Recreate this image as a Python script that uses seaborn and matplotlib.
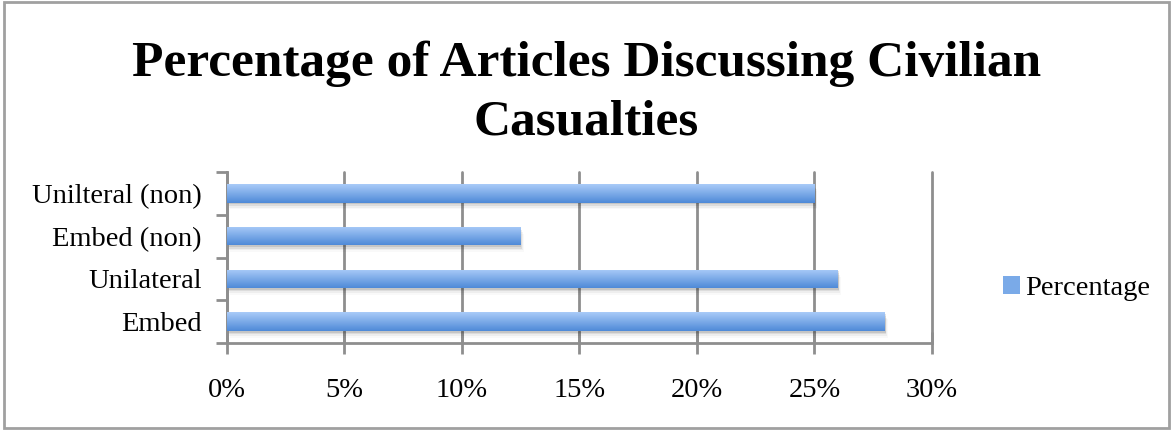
import matplotlib
matplotlib.use('Agg')
import matplotlib.pyplot as plt
import matplotlib.patches as mpatches
from matplotlib.colors import LinearSegmentedColormap
import numpy as np
import pandas as pd
import seaborn as sns

# data
categories = ["Embed", "Unilateral", "Embed (non)", "Unilteral (non)"]
percentages = [28.0, 26.0, 12.5, 25.0]
x_ticks = [0, 5, 10, 15, 20, 25, 30]

sns.set_theme(style="white")
plt.rcParams['font.family'] = ['Liberation Serif', 'DejaVu Serif']
plt.rcParams['text.color'] = 'black'
plt.rcParams['xtick.labelcolor'] = 'black'
plt.rcParams['ytick.labelcolor'] = 'black'

GRID = '#8e8e8e'
TOP_BLUE = '#a9cbf8'
BOT_BLUE = '#4f8ad8'
bar_cmap = LinearSegmentedColormap.from_list('bar', [TOP_BLUE, BOT_BLUE])

df = pd.DataFrame({"Category": categories, "Percentage": percentages})
# top-to-bottom order as drawn
order = categories[::-1]

fig = plt.figure(figsize=(11.73, 4.30), dpi=100)
ax = fig.add_axes([0.1935, 0.2023, 0.601, 0.3977])

sns.barplot(data=df, y="Category", x="Percentage", order=order, ax=ax,
            color=BOT_BLUE, width=0.43, orient='h', zorder=3)

# gradient fill + soft shadow for each bar
grad = np.linspace(0, 1, 64).reshape(-1, 1)
for p in list(ax.patches):
    x0, y0 = p.get_x(), p.get_y()
    w, h = p.get_width(), p.get_height()
    for k, a in enumerate([0.10, 0.07, 0.045, 0.025]):
        sh = mpatches.Rectangle((x0 + 0.03 * (k + 1), y0 + 0.04 * (k + 1)), w, h,
                                facecolor='black', edgecolor='none', alpha=a, zorder=2)
        ax.add_patch(sh)
    p.set_facecolor('none')
    p.set_edgecolor('none')
    im = ax.imshow(grad, cmap=bar_cmap, aspect='auto', origin='upper',
                   extent=[x0, x0 + w, y0 + h, y0], zorder=3, interpolation='bilinear')
    im.set_clip_path(p)

ax.set_xlim(0, 30)
ax.set_ylim(len(order) - 0.5, -0.5)
ax.set_xticks(x_ticks)
ax.set_xticklabels([f"{t}%" for t in x_ticks])

# category boundary ticks on y axis, labels at centers
ax.set_yticks(np.arange(-0.5, len(order), 1.0))
ax.set_yticklabels([])
ax.set_yticks(np.arange(len(order)), minor=True)
ax.set_yticklabels(order, minor=True)
ax.tick_params(axis='y', which='major', direction='out', length=8, width=2, color=GRID, left=True)
ax.tick_params(axis='y', which='minor', length=0, pad=18, labelsize=20.5)
ax.tick_params(axis='x', direction='inout', length=16, width=2, color=GRID, bottom=True,
               labelsize=20.5, pad=17)

ax.xaxis.grid(True, color=GRID, linewidth=2, zorder=1)
for gl in ax.get_xgridlines():
    gl.set_clip_on(False)
ax.yaxis.grid(False)
for side in ['top', 'right']:
    ax.spines[side].set_visible(False)
for side in ['left', 'bottom']:
    ax.spines[side].set_color(GRID)
    ax.spines[side].set_linewidth(2)
ax.set_xlabel("")
ax.set_ylabel("")
ax.set_axisbelow(True)

# legend
handle = mpatches.Patch(facecolor='#7aaae8', edgecolor='none', label="Percentage")
fig.legend(handles=[handle], loc='center left', bbox_to_anchor=(0.833, 0.33),
           frameon=False, fontsize=20.5, handlelength=0.6, handleheight=0.6,
           handletextpad=0.2)

fig.text(0.5, 0.783, "Percentage of Articles Discussing Civilian\nCasualties",
         ha='center', va='center', fontsize=37, fontweight='bold', linespacing=1.36)

# outer frame
fig.patches.append(mpatches.Rectangle((0.003, 0.005), 0.994, 0.99, transform=fig.transFigure,
                                      fill=False, edgecolor='#a0a0a0', linewidth=2))

fig.savefig("out.png", dpi=100, facecolor='white')
